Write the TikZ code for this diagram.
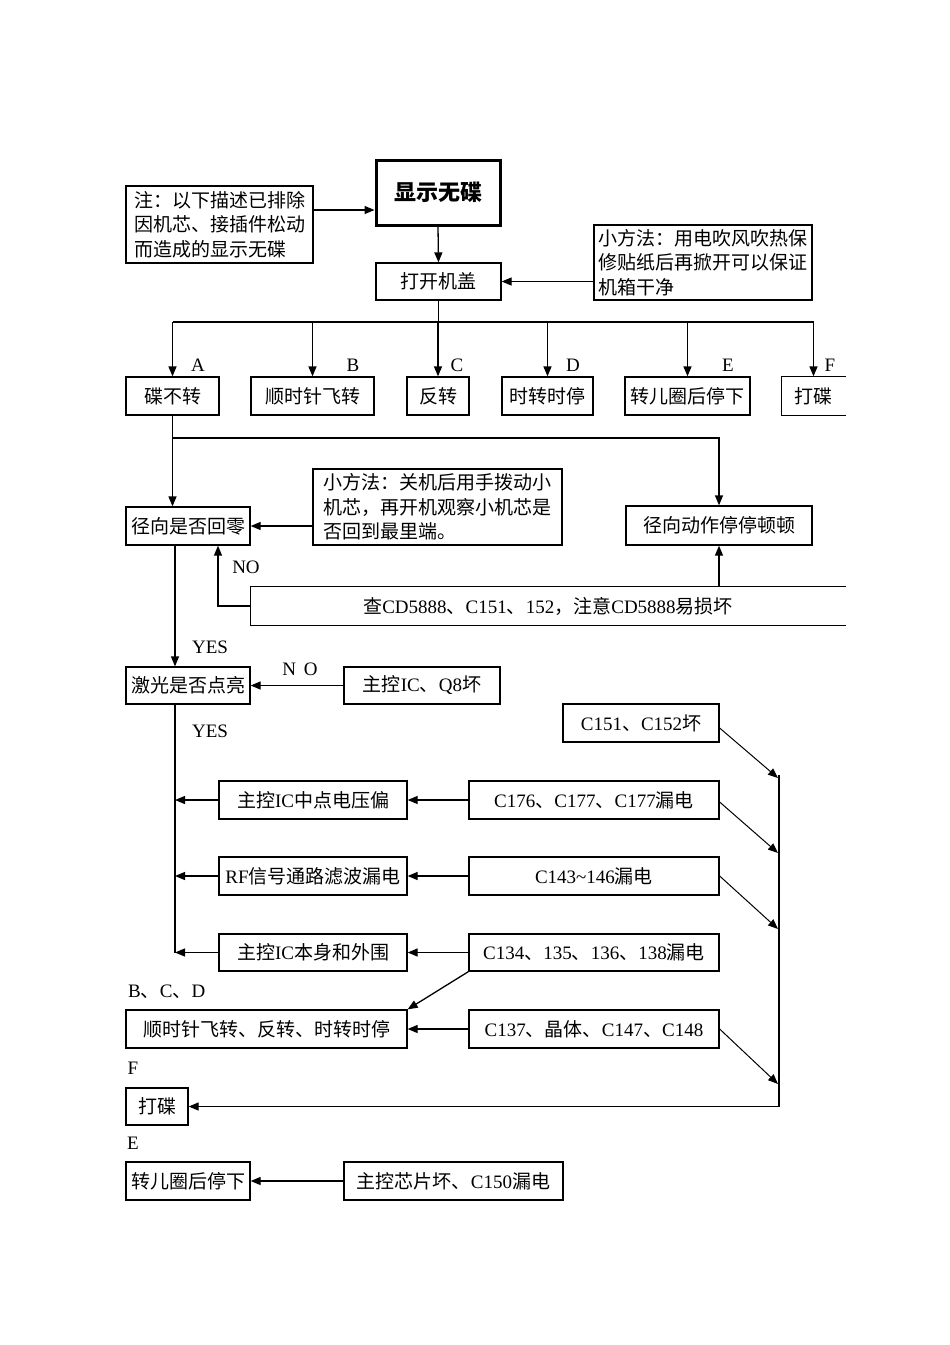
\documentclass[tikz,border=0pt]{standalone}
\usepackage{fontspec}
\setmainfont{Noto Sans CJK SC}
\newfontfamily\latf{Liberation Serif}
\usetikzlibrary{arrows.meta}
\newcommand\fs{\fontsize{19}{24.5}\selectfont}
\tikzset{
  bx/.style={draw, line width=1.3pt, inner sep=0pt, font=\fs},
  arr/.style={line width=1.3pt, -{Triangle[length=10pt,width=8pt]}},
  ln/.style={line width=1.3pt},
  lbl/.style={inner sep=0pt, font=\fs\latf},
}
\newcommand\mybox[7][]{%
  \node[bx,#1,minimum width={#5pt-#3pt},minimum height={#6pt-#4pt}] (#2) at ({(#3+#5)/2},{(#4+#6)/2}) {#7};}
\begin{document}
\begin{tikzpicture}[x=1pt,y=-1pt]
\fill[white] (0,0) rectangle (950,1345);
\useasboundingbox (0,0) rectangle (950,1345);

% top
\mybox[line width=3pt,font={\fontsize{22}{26}\selectfont\bfseries}]{title}{376}{160}{500}{225}{显示无碟}
\mybox[align=left]{note}{126}{186}{313}{263}{注：以下描述已排除\\因机芯、接插件松动\\而造成的显示无碟}
\mybox{open}{376}{263}{501}{300}{打开机盖}
\mybox[align=left]{tipa}{594}{225}{812}{300}{小方法：用电吹风吹热保\\修贴纸后再掀开可以保证\\机箱干净}
\draw[arr] ([yshift=14.5pt]note.east) coordinate (n1) -- (n1 -| title.west);
\draw[arr] (title.south) -- (open.north);
\draw[arr] (tipa.west |- open.east) -- (open.east);

% row of symptoms
\mybox{bA}{126}{377}{219}{415}{碟不转}
\mybox{bB}{251}{377}{374}{415}{顺时针飞转}
\mybox{bC}{407}{377}{469}{415}{反转}
\mybox{bD}{502}{377}{593}{415}{时转时停}
\mybox{bE}{625}{377}{750}{415}{转儿圈后停下}
\mybox[draw=none]{bF}{782}{377}{845}{415}{打碟}
\draw[ln] (bF.north east) -- (bF.north west) -- (bF.south west) -- (bF.south east);
\coordinate (bus) at (437,322);
\draw[ln] (open.south) -- (open.south |- bus);
\draw[ln] (bA.north |- bus) -- (bF.north |- bus);
\foreach \b in {bA,bB,bC,bD,bE,bF} \draw[arr] (\b.north |- bus) -- (\b.north);
\node[lbl] at (198,365) {A};
\node[lbl] at (353,365) {B};
\node[lbl] at (457,365) {C};
\node[lbl] at (573,365) {D};
\node[lbl] at (728,365) {E};
\node[lbl] at (830,365) {F};

% radial
\mybox{radial}{126}{507}{250}{545}{径向是否回零}
\mybox[align=left]{tipb}{313}{469}{562}{545}{小方法：关机后用手拨动小\\机芯，再开机观察小机芯是\\否回到最里端。}
\mybox{stall}{626}{506}{812}{545}{径向动作停停顿顿}
\mybox[draw=none]{cd}{251}{587}{845}{625}{查{\latf CD5888}、{\latf C151}、{\latf 152}，注意{\latf CD5888}易损坏}
\draw[ln] (cd.north east) -- (cd.north west) -- (cd.south west) -- (cd.south east);
\draw[arr] (bA.south) -- (bA.south |- radial.north);
\coordinate (h2) at (437,438);
\draw[arr] (bA.south |- h2) -- (stall.north |- h2) -- (stall.north);
\draw[arr] (tipb.west |- radial.east) -- (radial.east);
\draw[arr] (cd.west) -| ([xshift=30pt]radial.south);
\node[lbl] at (246,567) {NO};
\draw[arr] (cd.north -| stall.south) -- (stall.south);

% laser
\mybox{laser}{126}{667}{250}{704}{激光是否点亮}
\mybox{qeight}{344}{667}{500}{704}{主控{\latf IC}、{\latf Q8}坏}
\draw[arr] ([xshift=-13pt]radial.south) -- ([xshift=-13pt]laser.north);
\node[lbl] at (210,647) {YES};
\draw[arr] (qeight.west) -- (laser.east);
\node[lbl] at (300,669) {N\hspace{8pt}O};
\node[lbl] at (210,731) {YES};

% causes
\mybox{Lone}{219}{781}{407}{819}{主控{\latf IC}中点电压偏}
\mybox{Ltwo}{219}{857}{407}{895}{{\latf RF}信号通路滤波漏电}
\mybox{Lthree}{219}{934}{407}{971}{主控{\latf IC}本身和外围}
\coordinate (tx) at ([xshift=-13pt]laser.south);
\draw[ln] (tx) -- (tx |- Lthree.west);
\foreach \b in {Lone,Ltwo,Lthree} \draw[arr] (\b.west) -- (\b.west -| tx);

\mybox{Rzero}{563}{704}{719}{742}{{\latf C151}、{\latf C152}坏}
\mybox{Rone}{469}{781}{719}{819}{{\latf C176}、{\latf C177}、{\latf C177}漏电}
\mybox{Rtwo}{469}{857}{719}{895}{{\latf C143\textasciitilde146}漏电}
\mybox{Rthree}{469}{934}{719}{971}{{\latf C134}、{\latf 135}、{\latf 136}、{\latf 138}漏电}
\mybox{Rfour}{469}{1010}{719}{1048}{{\latf C137}、晶体、{\latf C147}、{\latf C148}}
\mybox{bcd}{126}{1010}{407}{1048}{顺时针飞转、反转、时转时停}
\draw[arr] (Rone.west) -- (Lone.east);
\draw[arr] (Rtwo.west) -- (Ltwo.east);
\draw[arr] (Rthree.west) -- (Lthree.east);
\draw[arr] (Rfour.west) -- (bcd.east);
\draw[arr] (Rthree.south west) -- (bcd.north east);
\node[inner sep=0pt,font=\fs,anchor=west] at (128,992) {{\latf B}、{\latf C}、{\latf D}};

\mybox{dd}{126}{1088}{188}{1125}{打碟}
\node[lbl] at (133,1068) {F};
\coordinate (vtop) at (779,775);
\draw[arr] (vtop) |- (dd.east);
\coordinate (dzero) at (778,778);
\coordinate (done) at (778,853);
\coordinate (dtwo) at (778,929);
\coordinate (dfour) at (778,1084);
\draw[arr, line width=1pt] ([yshift=-5pt]Rzero.east) -- (dzero);
\draw[arr, line width=1pt] ([yshift=-2pt]Rone.east) -- (done);
\draw[arr, line width=1pt] (Rtwo.east) -- (dtwo);
\draw[arr, line width=1pt] (Rfour.east) -- (dfour);

\mybox{eb}{126}{1162}{250}{1200}{转儿圈后停下}
\mybox{chip}{344}{1162}{563}{1200}{主控芯片坏、{\latf C150}漏电}
\node[lbl] at (133,1143) {E};
\draw[arr] (chip.west) -- (eb.east);
\end{tikzpicture}
\end{document}
